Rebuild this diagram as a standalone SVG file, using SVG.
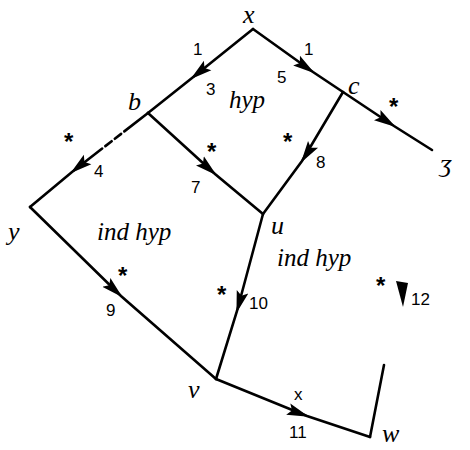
<svg xmlns="http://www.w3.org/2000/svg" width="470" height="450" viewBox="0 0 470 450">
<defs>
<style>
.e{fill:none;stroke:#000;stroke-width:2.6;stroke-linecap:round;marker-mid:url(#a)}
.t{font-family:"Liberation Serif",serif;font-style:italic;fill:#000;font-size:26px}
.h{font-family:"Liberation Serif",serif;font-style:italic;fill:#000;font-size:25px}
.n{font-family:"Liberation Sans",sans-serif;fill:#000;font-size:17px}
.s{font-family:"Liberation Sans",sans-serif;fill:#000;font-size:24px;font-weight:bold}
</style>
<marker id="a" viewBox="-20 -7 24 14" markerWidth="24" markerHeight="14" refX="0" refY="0" orient="auto" markerUnits="userSpaceOnUse">
<path d="M-20,-6 L2,0 L-20,6 L-16,0 z" fill="#000"/>
</marker>
</defs>
<rect width="470" height="450" fill="#fff"/>
<g id="connectors">
<path class="e" d="M253,29 L192,78 L148,113"/>
<path class="e" d="M253,29 L313,72 L343,92"/>
<path class="e" d="M343,92 L394,126 L432,150"/>
<path class="e" d="M343,92 L302,161 L263,214"/>
<path class="e" d="M148,113 L215,174 L263,214"/>
<path class="e" d="M148,113 L72,172 L30,207" stroke-dasharray="30 4 8 4 8 4 200"/>
<path class="e" d="M30,207 L121,296 L216,379"/>
<path class="e" d="M263,214 L237,311 L216,379"/>
<path class="e" d="M216,379 L307,416 L370,437"/>
<path class="e" d="M370,437 L384,365" style="marker-mid:none"/>
<path d="M396,281 L408,283 L403,307 z" fill="#000"/>
</g>
<g id="x"><text class="t" x="243" y="23">x</text></g>
<g id="b"><text class="t" x="128" y="110">b</text></g>
<g id="c"><text class="t" x="348" y="94">c</text></g>
<g id="z"><text class="t" x="440" y="172">ʒ</text></g>
<g id="y"><text class="t" x="8" y="240">y</text></g>
<g id="u"><text class="t" x="271" y="234" font-size="19">u</text></g>
<g id="v"><text class="t" x="188" y="398">v</text></g>
<g id="w"><text class="t" x="382" y="442">w</text></g>
<g id="labels">
<text class="h" x="229" y="108">hyp</text>
<text class="h" x="97" y="240">ind hyp</text>
<text class="h" x="277" y="266">ind hyp</text>
<text class="n" x="193" y="55">1</text>
<text class="n" x="206" y="95">3</text>
<text class="n" x="304" y="55">1</text>
<text class="n" x="277" y="83">5</text>
<text class="s" x="389" y="115">*</text>
<text class="s" x="283" y="150">*</text>
<text class="n" x="316" y="168">8</text>
<text class="s" x="207" y="160">*</text>
<text class="n" x="191" y="193">7</text>
<text class="s" x="64" y="150">*</text>
<text class="n" x="94" y="177">4</text>
<text class="s" x="118" y="284">*</text>
<text class="n" x="106" y="316">9</text>
<text class="s" x="217" y="303">*</text>
<text class="n" x="249" y="309">10</text>
<text class="s" x="376" y="294">*</text>
<text class="n" x="411" y="305">12</text>
<text class="n" x="294" y="400">x</text>
<text class="n" x="289" y="438">11</text>
</g>
</svg>
